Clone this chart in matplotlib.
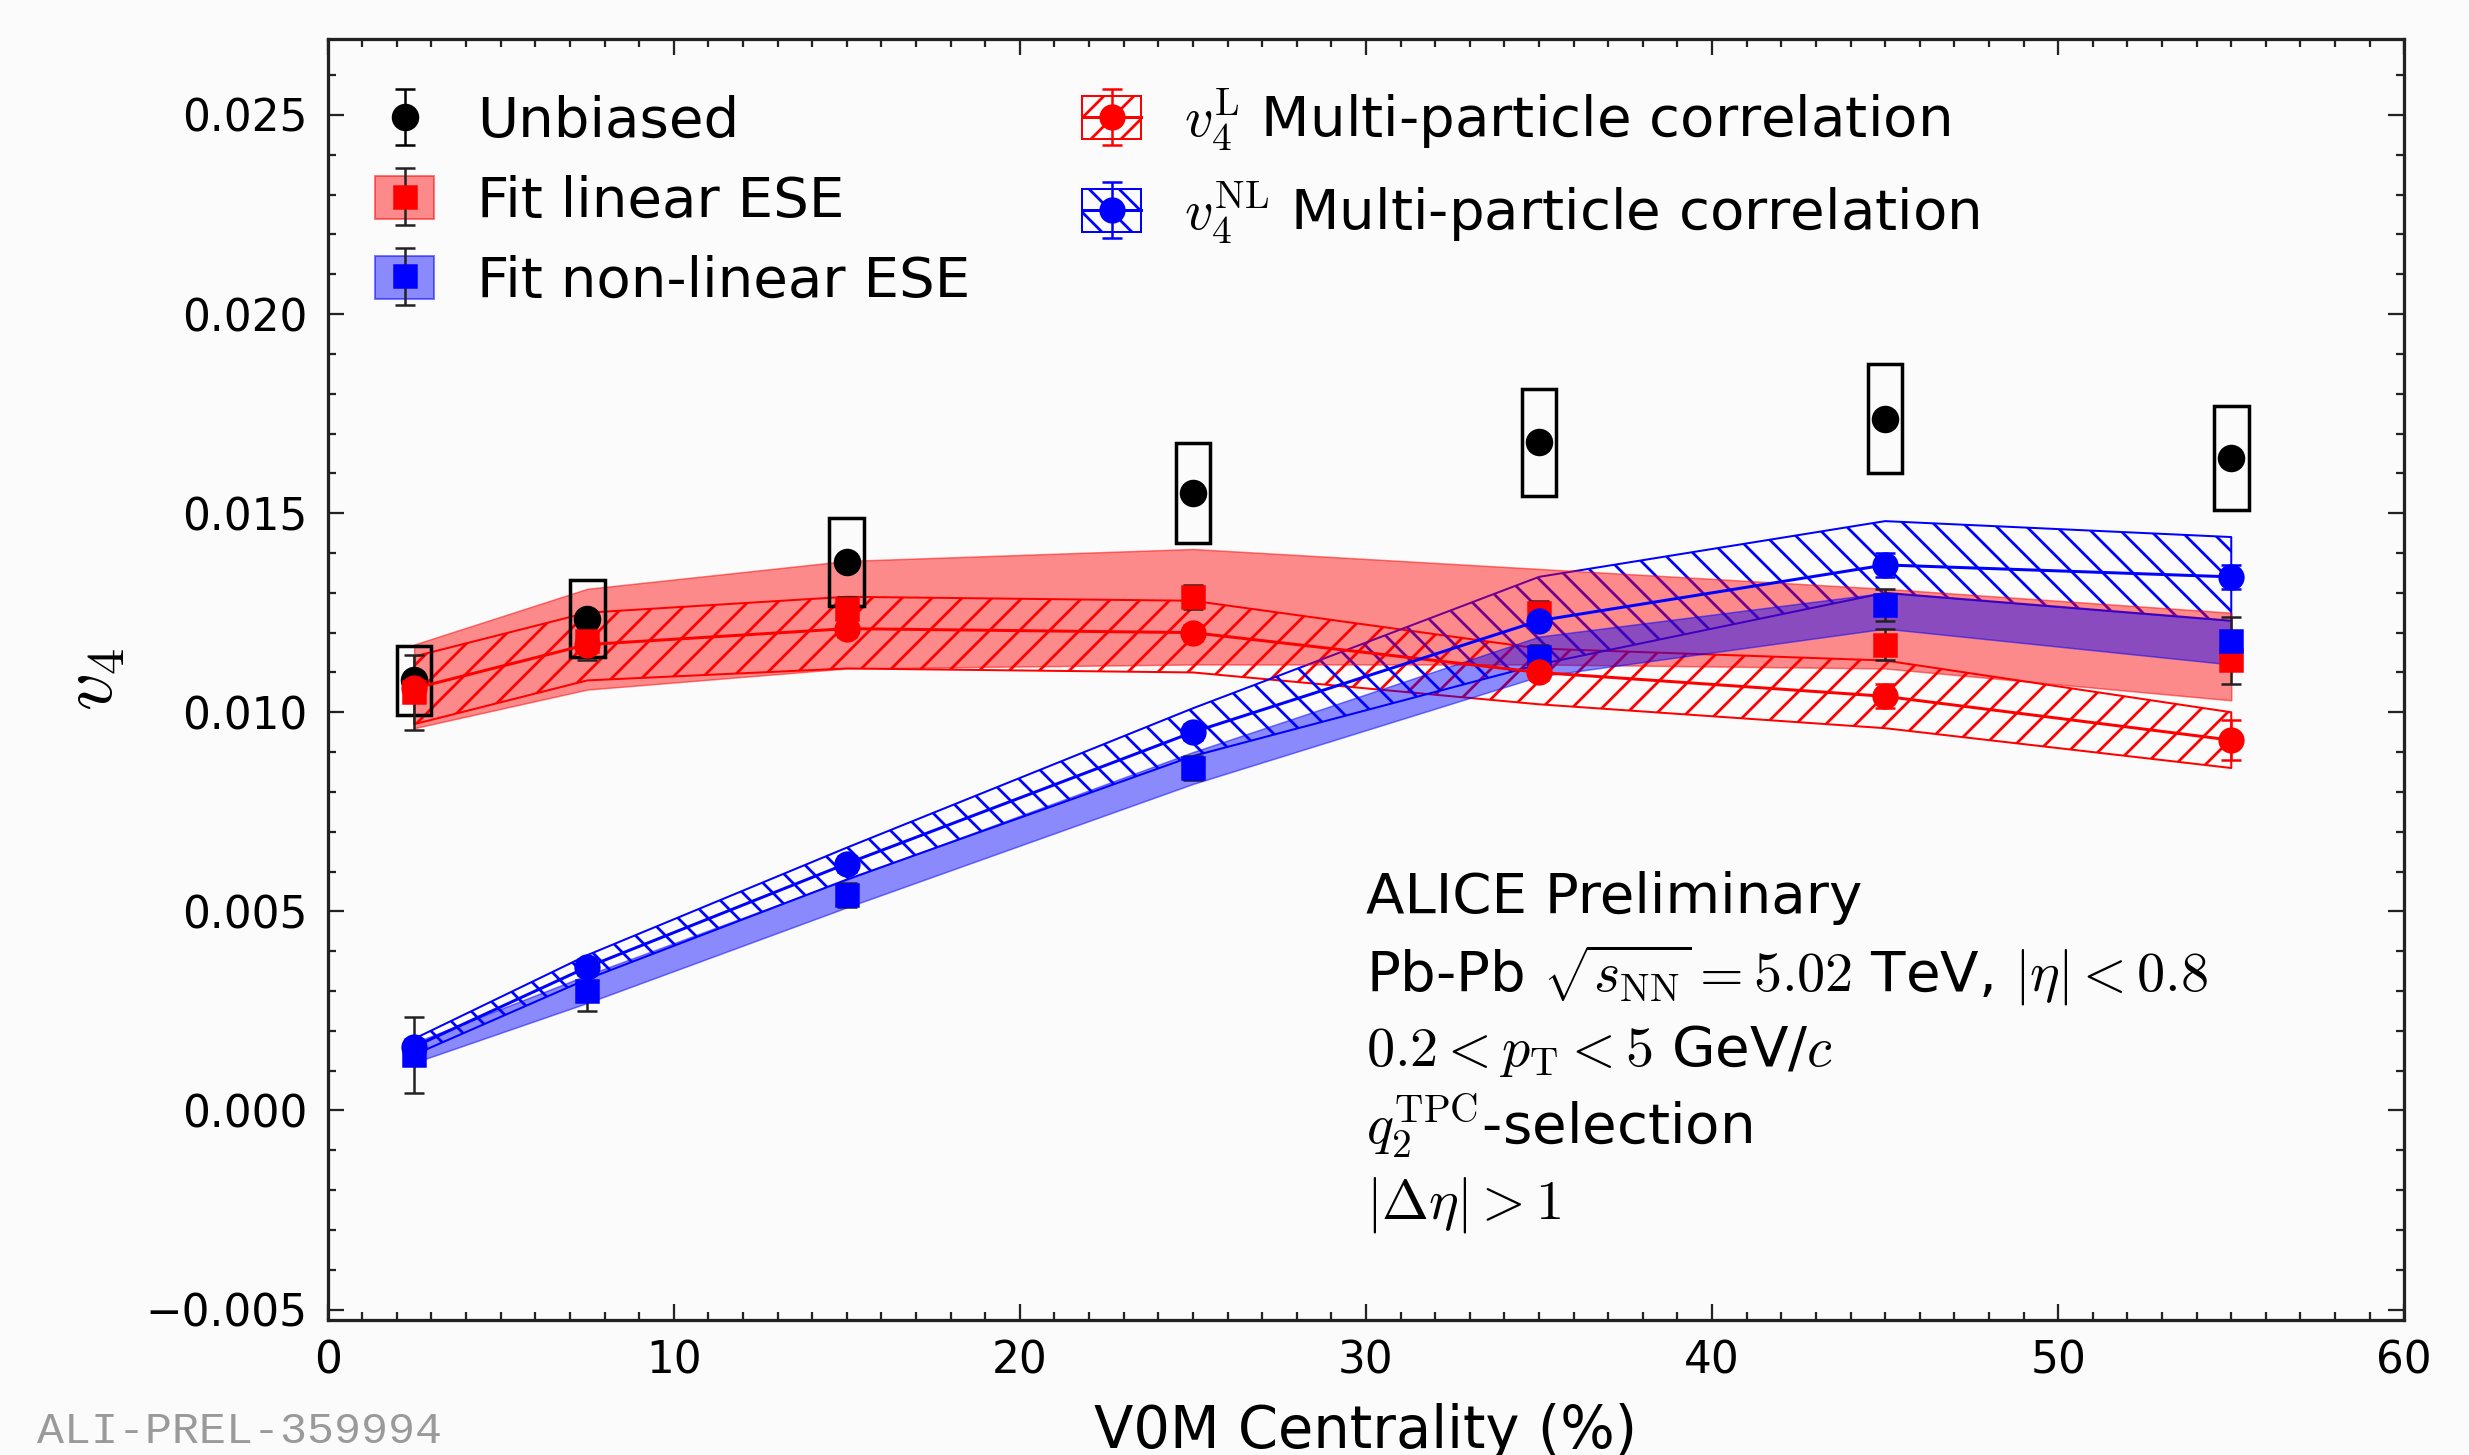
import matplotlib
matplotlib.use("Agg")
import matplotlib.pyplot as plt
import numpy as np
from matplotlib.patches import Patch
from matplotlib.legend_handler import HandlerTuple
from matplotlib.ticker import MultipleLocator, FuncFormatter

# ---------------- data ----------------
centrality = [2.5, 7.5, 15, 25, 35, 45, 55]

unbiased = [0.0108, 0.01235, 0.01377, 0.01551, 0.01678, 0.01737, 0.01638]
unbiased_stat = [0.0002, 0.0002, 0.0002, 0.0002, 0.0002, 0.0002, 0.0002]
unbiased_syst = [0.00087, 0.00097, 0.0011, 0.00125, 0.00135, 0.00137, 0.0013]

fit_lin = [0.0105, 0.0118, 0.0126, 0.0129, 0.0125, 0.0117, 0.0113]
fit_lin_lo = [0.0096, 0.01057, 0.0111, 0.0112, 0.0112, 0.0111, 0.0103]
fit_lin_hi = [0.0117, 0.0131, 0.0138, 0.0141, 0.0136, 0.0131, 0.0125]
fit_lin_err = [0.00095, 0.0005, 0.0003, 0.0003, 0.0003, 0.0004, 0.0006]

fit_nl = [0.0014, 0.0030, 0.0054, 0.0086, 0.0114, 0.0127, 0.0118]
fit_nl_lo = [0.0012, 0.0027, 0.0051, 0.0082, 0.0109, 0.0121, 0.0112]
fit_nl_hi = [0.0017, 0.0034, 0.0058, 0.0090, 0.0119, 0.0130, 0.0123]
fit_nl_err = [0.00095, 0.0005, 0.0003, 0.0003, 0.0003, 0.0004, 0.0006]

v4L = [0.0106, 0.0117, 0.0121, 0.0120, 0.0110, 0.0104, 0.0093]
v4L_lo = [0.0097, 0.0108, 0.0111, 0.0110, 0.0102, 0.0096, 0.0086]
v4L_hi = [0.0114, 0.0125, 0.0129, 0.0128, 0.0116, 0.0113, 0.0100]
v4L_err = [0.0002, 0.0002, 0.0002, 0.0002, 0.0002, 0.0003, 0.0005]

v4NL = [0.0016, 0.0036, 0.0062, 0.0095, 0.0123, 0.0137, 0.0134]
v4NL_lo = [0.0014, 0.0033, 0.0058, 0.0089, 0.0112, 0.0130, 0.0123]
v4NL_hi = [0.0018, 0.0039, 0.0066, 0.0101, 0.0134, 0.0148, 0.0144]
v4NL_err = [0.0002, 0.0002, 0.0002, 0.0002, 0.0002, 0.0003, 0.0003]

labels = ["Unbiased", "Fit linear ESE", "Fit non-linear ESE",
          r"$v_4^{\rm L}$ Multi-particle correlation",
          r"$v_4^{\rm NL}$ Multi-particle correlation"]

text_lines = ["ALICE Preliminary",
              r"Pb-Pb $\sqrt{s_{\rm NN}}=5.02$ TeV, $|\eta|<0.8$",
              r"$0.2<p_{\rm T}<5$ GeV/$c$",
              r"$q_2^{\rm TPC}$-selection",
              r"$|\Delta\eta|>1$"]

# ---------------- style ----------------
plt.rcParams['font.family'] = ['DejaVu Sans']
plt.rcParams['mathtext.fontset'] = 'cm'
plt.rcParams['hatch.linewidth'] = 1.1

DPI = 180
fig = plt.figure(figsize=(2469 / DPI, 1455 / DPI), dpi=DPI, facecolor='#fbfbfb')
ax = fig.add_axes([0.1327, 0.0931, 0.8411, 0.8799])
ax.set_facecolor('#fbfbfb')

x = np.array(centrality)
red = '#ff0000'
blue = '#0000ff'

# hatched bands (multi-particle)
ax.fill_between(x, v4L_lo, v4L_hi, facecolor='none', edgecolor=red,
                hatch='//', lw=0.8, zorder=1)
ax.fill_between(x, v4NL_lo, v4NL_hi, facecolor='none', edgecolor=blue,
                hatch='\\\\', lw=0.8, zorder=1)

# filled bands (fits)
ax.fill_between(x, fit_lin_lo, fit_lin_hi, facecolor=(1, 0, 0, 0.45),
                edgecolor=(1, 0, 0, 0.5), lw=0.6, zorder=2)
ax.fill_between(x, fit_nl_lo, fit_nl_hi, facecolor=(0, 0, 1, 0.45),
                edgecolor=(0, 0, 1, 0.5), lw=0.6, zorder=3)

# systematic boxes for unbiased
ax.bar(x, 2 * np.array(unbiased_syst), width=1.0,
       bottom=np.array(unbiased) - np.array(unbiased_syst),
       fill=False, edgecolor='black', lw=1.4, zorder=5)

e_unb = ax.errorbar(x, unbiased, yerr=unbiased_stat, fmt='o', color='black',
                    ms=10, capsize=4, elinewidth=1.0, capthick=1.0, zorder=6)
e_lin = ax.errorbar(x, fit_lin, yerr=fit_lin_err, fmt='s', color=red, ecolor='#222222',
                    ms=8.5, capsize=4, elinewidth=1.0, capthick=1.0, zorder=6)
e_nl = ax.errorbar(x, fit_nl, yerr=fit_nl_err, fmt='s', color=blue, ecolor='#222222',
                   ms=8.5, capsize=4, elinewidth=1.0, capthick=1.0, zorder=6)
e_L = ax.errorbar(x, v4L, yerr=v4L_err, fmt='-o', color=red, lw=1.2,
                  ms=9.5, capsize=4, elinewidth=1.0, capthick=1.0, zorder=7)
e_NL = ax.errorbar(x, v4NL, yerr=v4NL_err, fmt='-o', color=blue, lw=1.2,
                   ms=9.5, capsize=4, elinewidth=1.0, capthick=1.0, zorder=7)

# axes
ax.set_xlim(0, 60)
ax.set_ylim(-0.00525, 0.0269)
ax.xaxis.set_major_locator(MultipleLocator(10))
ax.xaxis.set_minor_locator(MultipleLocator(1))
ax.yaxis.set_major_locator(MultipleLocator(0.005))
ax.yaxis.set_minor_locator(MultipleLocator(0.001))
ax.tick_params(which='both', direction='in', top=True, right=True, labelsize=17.5,
               width=0.9, color='#222222')
ax.tick_params(which='major', length=6.5, pad=8)
ax.tick_params(which='minor', length=3.2)
ax.yaxis.set_major_formatter(FuncFormatter(lambda v, p: ("%.3f" % v).replace('-', '\u2212')))
for s in ax.spines.values():
    s.set_linewidth(1.3)
    s.set_color('#222222')

ax.set_xlabel("V0M Centrality (%)", fontsize=23, labelpad=8)
ax.set_ylabel(r"$v_4$", fontsize=30, labelpad=7)

# legend
lin_patch = Patch(facecolor=(1, 0, 0, 0.45), edgecolor=(1, 0, 0, 0.5), lw=0.8)
nl_patch = Patch(facecolor=(0, 0, 1, 0.45), edgecolor=(0, 0, 1, 0.5), lw=0.8)
L_patch = Patch(facecolor='none', edgecolor=red, hatch='//', lw=0.8)
NL_patch = Patch(facecolor='none', edgecolor=blue, hatch='\\\\', lw=0.8)

handles = [e_unb, (lin_patch, e_lin), (nl_patch, e_nl), (L_patch, e_L), (NL_patch, e_NL)]
leg = ax.legend(handles, labels, ncol=2, loc='upper left',
                bbox_to_anchor=(0.023, 0.963), frameon=False, fontsize=22.5,
                handlelength=1.05, handleheight=0.8, handletextpad=0.75,
                columnspacing=2.0, labelspacing=0.46, borderpad=0, borderaxespad=0,
                handler_map={tuple: HandlerTuple(ndivide=1, pad=0)})

# annotation text
ys = [0.329, 0.269, 0.2098, 0.1508, 0.0893]
for t, yy in zip(text_lines, ys):
    ax.text(0.5, yy, t, transform=ax.transAxes, fontsize=22.5, ha='left', va='center')

fig.text(0.015, 0.016, "ALI-PREL-359994", fontsize=18, color='#9a9a9a',
         family='Liberation Mono', ha='left', va='center')

fig.savefig("out.png", dpi=DPI, facecolor=fig.get_facecolor())
